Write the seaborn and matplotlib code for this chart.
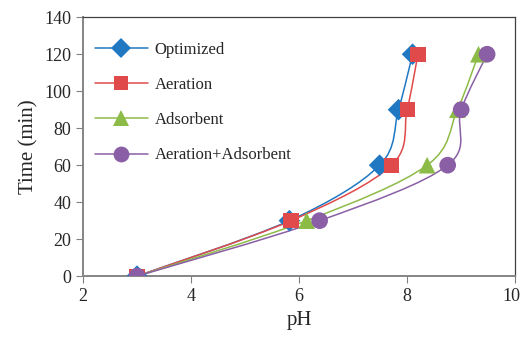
import numpy as np
import pandas as pd
import matplotlib
matplotlib.use('Agg')
import matplotlib.pyplot as plt
import matplotlib.transforms as mtransforms
import seaborn as sns
from matplotlib.path import Path
from matplotlib.patches import PathPatch

# data
time_min = [0, 30, 60, 90, 120]
ph_optimized = [3.0, 5.82, 7.49, 7.84, 8.10]
ph_aeration = [3.0, 5.85, 7.71, 8.00, 8.20]
ph_adsorbent = [3.0, 6.14, 8.37, 8.93, 9.32]
ph_aer_ads = [3.0, 6.38, 8.75, 9.00, 9.48]

series = ['Optimized', 'Aeration', 'Adsorbent', 'Aeration+Adsorbent']
colors = ['#1f78c1', '#e04a4a', '#8dbb48', '#8a5fa6']
markers = ['D', 's', '^', 'o']
sizes = [11, 11, 12, 12]

df = pd.DataFrame({
    'pH': ph_optimized + ph_aeration + ph_adsorbent + ph_aer_ads,
    'Time': time_min * 4,
    'Series': [s for s in series for _ in time_min],
})

sns.set_style('white')
plt.rcParams['font.family'] = ['Liberation Serif', 'DejaVu Serif']

fig = plt.figure(figsize=(5.22, 3.38), dpi=100)
ax = fig.add_axes([0.159, 0.183, 0.828, 0.766])


def smooth_path(xs, ys):
    # Excel-like smoothed line: cubic bezier segments (Catmull-Rom tangents)
    p = np.column_stack([xs, ys]).astype(float)
    n = len(p)
    verts = [p[0]]
    codes = [Path.MOVETO]
    for i in range(n - 1):
        p0 = p[i - 1] if i > 0 else p[i]
        p3 = p[i + 2] if i + 2 < n else p[i + 1]
        c1 = p[i] + (p[i + 1] - p0) / 6.0
        c2 = p[i + 1] - (p3 - p[i]) / 6.0
        verts += [c1, c2, p[i + 1]]
        codes += [Path.CURVE4] * 3
    return Path(verts, codes)


for name, col, mk, ms in zip(series, colors, markers, sizes):
    d = df[df['Series'] == name]
    ax.add_patch(PathPatch(smooth_path(d['pH'], d['Time']), fill=False,
                           edgecolor=col, lw=1.1, zorder=2))
    sns.scatterplot(data=d, x='pH', y='Time', marker=mk, color=col, s=ms ** 2,
                    edgecolor='none', ax=ax, zorder=3, legend=False)
    ax.plot([], [], color=col, lw=1.1, marker=mk, markersize=ms * 0.95,
            markeredgewidth=0, label=name)

ax.set_xlim(2, 10)
ax.set_ylim(0, 140)
ax.set_xticks([2, 4, 6, 8, 10])
ax.set_yticks(range(0, 141, 20))
ax.set_xlabel('pH', fontsize=15)
ax.set_ylabel('Time (min)', fontsize=15)
ax.tick_params(labelsize=13, direction='out', length=5, color='#808080',
               left=True, bottom=True)
for sp in ['top', 'right']:
    ax.spines[sp].set_color('#404040')
    ax.spines[sp].set_linewidth(0.9)
for sp in ['left', 'bottom']:
    ax.spines[sp].set_color('#858585')
    ax.spines[sp].set_linewidth(1.4)

# nudge the last x label so it stays inside the figure
fig.canvas.draw()
last = ax.get_xticklabels()[-1]
last.set_transform(last.get_transform() +
                   mtransforms.ScaledTranslation(-4 / 100, 0, fig.dpi_scale_trans))

ax.legend(loc='upper left', bbox_to_anchor=(0.0, 0.95), frameon=False,
          fontsize=12, handlelength=3.2, handletextpad=0.4,
          labelspacing=1.15, borderaxespad=0.3)

fig.savefig('out.png', dpi=100)
